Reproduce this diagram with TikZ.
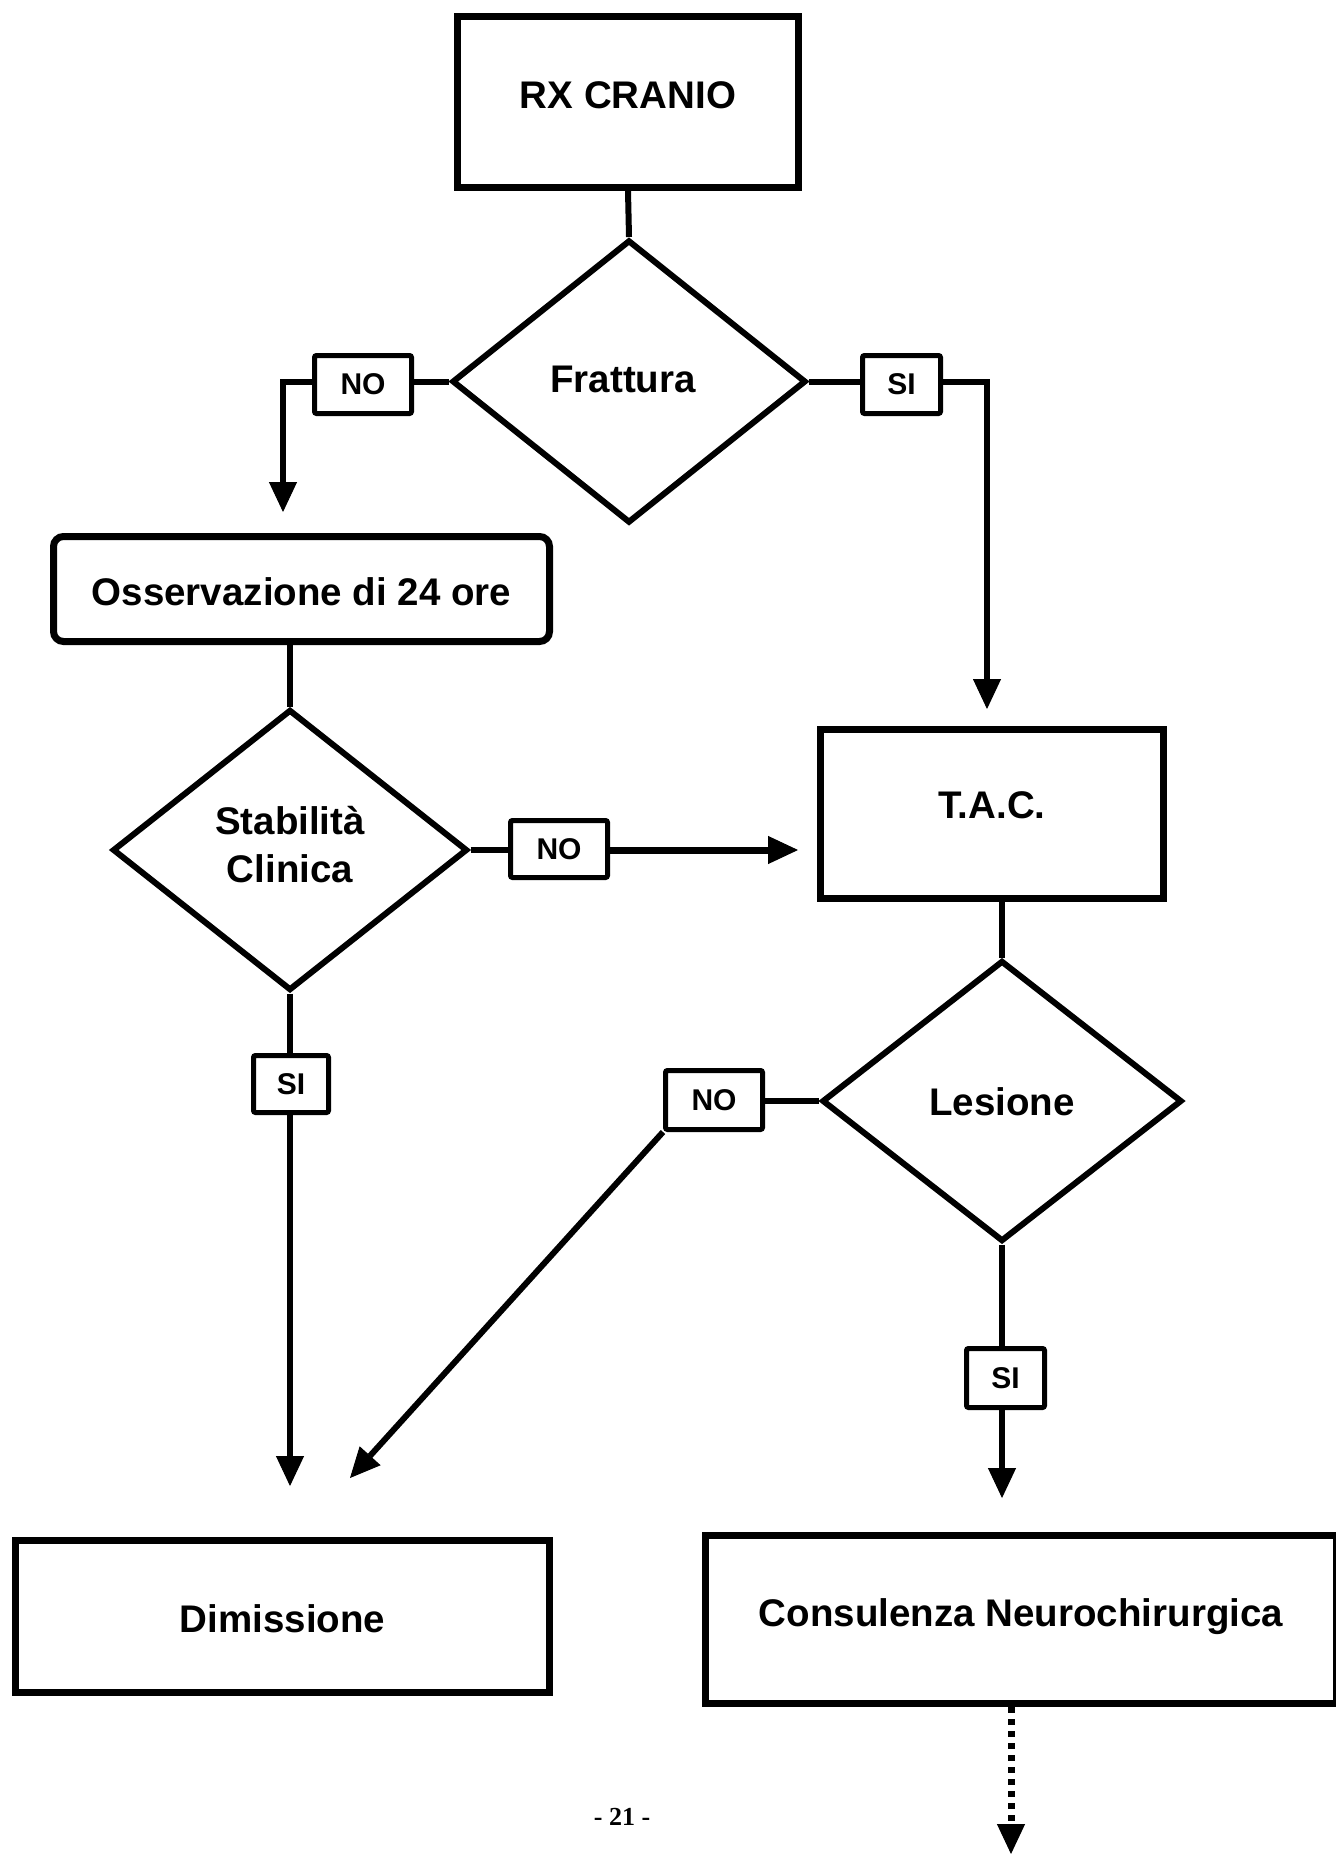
\documentclass[tikz,border=0pt]{standalone}
\usepackage{fontspec}
\setmainfont{Liberation Sans}
\newfontfamily\pagefont{Liberation Serif}
\usetikzlibrary{arrows.meta,shapes.geometric}
\newcommand\mybigtxt{\bfseries\fontsize{38.5pt}{48pt}\selectfont}
\newcommand\mysmalltxt{\bfseries\fontsize{30pt}{36pt}\selectfont}
\begin{document}
\begin{tikzpicture}[x=1pt,y=-1pt,
  >={Triangle[length=30pt,width=28pt,line width=1pt]},
  box/.style={draw,line width=7pt,rectangle,inner sep=0pt,font=\mybigtxt},
  dia/.style={draw,line width=6pt,diamond,inner sep=0pt,font=\mybigtxt},
  tag/.style={draw,line width=5pt,rectangle,rounded corners=2pt,inner sep=0pt,font=\mysmalltxt},
  conn/.style={line width=6pt},
  th/.style={text height=#1,text depth=0pt}
]
\fill[white] (0,0) rectangle (1335,1854);
\useasboundingbox (0,0) rectangle (1335,1854);

% shapes
\node[box,minimum width=341pt,minimum height=171pt,th=14pt] (rx) at (628,102) {RX CRANIO};
\node[dia,minimum width=354pt,minimum height=283pt,th=21pt] (frat) at (629,381.5) {Frattura\kern12pt};
\node[tag,minimum width=97pt,minimum height=58pt] (no1) at (363,384.5) {NO};
\node[tag,minimum width=78pt,minimum height=58pt] (si1) at (901.5,384.5) {SI};
\node[box,rounded corners=10pt,minimum width=496pt,minimum height=105pt,th=32pt] (oss) at (301.5,589) {Osservazione di 24 ore};
\node[dia,minimum width=355pt,minimum height=281pt,th=64pt] (stab) at (290,850)
  {\vbox{\baselineskip=48pt\hbox to 0pt{\hss Stabilità\hss}\hbox to 0pt{\hss Clinica\hss}}};
\node[tag,minimum width=97pt,minimum height=57pt] (no2) at (559,849) {NO};
\node[box,minimum width=343pt,minimum height=169pt,th=9pt] (tac) at (992,814) {T.A.C.};
\node[dia,minimum width=360pt,minimum height=281pt,th=28pt] (les) at (1002,1101) {Lesione};
\node[tag,minimum width=75pt,minimum height=57pt] (si2) at (291,1084) {SI};
\node[tag,minimum width=97pt,minimum height=59pt] (no3) at (714,1100) {NO};
\node[tag,minimum width=78pt,minimum height=59pt] (si3) at (1005.5,1378) {SI};
\node[box,minimum width=534pt,minimum height=152pt,th=31pt] (dim) at (282.5,1616.5) {Dimissione};
\node[box,minimum width=631pt,minimum height=168pt,th=14pt] (cons) at (1021,1619.5) {Consulenza Neurochirurgica};
\node[font=\pagefont\bfseries\fontsize{26pt}{30pt}\selectfont,anchor=base,inner sep=0pt] (pg) at (622,1825) {- 21 -};

% free ends
\coordinate (a1) at (283,512);
\coordinate (a2) at (987,709);
\coordinate (a3) at (798,850);
\coordinate (a4) at (290,1486);
\coordinate (a5) at (350,1478);
\coordinate (a6) at (1002,1498);
\coordinate (a7) at (1011,1854);

% connectors
\draw[conn] (rx.south) -- (frat.north);
\draw[conn] (frat.west) -- (frat.west -| no1.east);
\draw[conn,->] (frat.west -| no1.west) -| (a1);
\draw[conn] (frat.east) -- (frat.east -| si1.west);
\draw[conn,->] (frat.east -| si1.east) -| (a2);

\draw[conn] (oss.south -| stab.north) -- (stab.north);
\draw[conn] (stab.east) -- (stab.east -| no2.west);
\draw[conn,line width=7pt,->] (stab.east -| no2.east) -- (a3);
\draw[conn] (stab.south) -- (stab.south |- si2.north);
\draw[conn,->] (stab.south |- si2.south) -- (a4);

\draw[conn] (tac.south -| les.north) -- (les.north);
\draw[conn] (les.west) -- (les.west -| no3.east);
\draw[conn,->] (no3.south west) -- (a5);
\draw[conn] (les.south) -- (les.south |- si3.north);
\draw[conn,->] (les.south |- si3.south) -- (a6);

\draw[line width=7pt,dash pattern=on 6pt off 6pt,->] (cons.south -| a7) -- (a7);
\end{tikzpicture}
\end{document}
